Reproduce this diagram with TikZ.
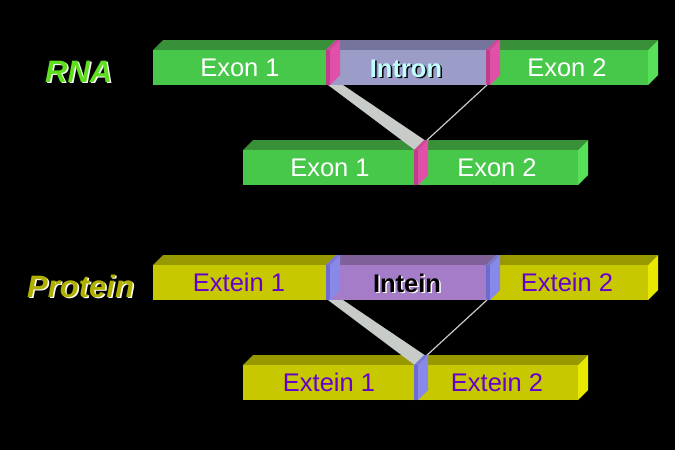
\documentclass[tikz,border=0pt]{standalone}
\usepackage{fontspec}
\setmainfont{Liberation Sans}
\definecolor{gfront}{HTML}{48C84A}
\definecolor{gtop}{HTML}{389038}
\definecolor{gside}{HTML}{58E058}
\definecolor{ifront}{HTML}{9C9CC8}
\definecolor{itop}{HTML}{74749C}
\definecolor{pfront}{HTML}{C03C8C}
\definecolor{ptop}{HTML}{D04898}
\definecolor{pside}{HTML}{E050A8}
\definecolor{yfront}{HTML}{C8C800}
\definecolor{ytop}{HTML}{989800}
\definecolor{yside}{HTML}{E8E800}
\definecolor{nfront}{HTML}{A47CC8}
\definecolor{ntop}{HTML}{806098}
\definecolor{bfront}{HTML}{6C6CD0}
\definecolor{btop}{HTML}{7878D8}
\definecolor{bside}{HTML}{8888E8}
\definecolor{band}{HTML}{C8CCC8}
\definecolor{exttext}{HTML}{6600CC}
\definecolor{intrtext}{HTML}{C0FFFF}
\definecolor{rnagreen}{HTML}{5EE01E}
\definecolor{protolive}{HTML}{B0B000}
\newcommand{\drawbar}[6]{%
  \fill[#5] (#1,#3) -- (#1+10,#3-10) -- (#2+10,#3-10) -- (#2,#3) -- cycle;
  \fill[#4] (#1,#3) rectangle (#2,#3+35);
  \fill[#6] (#2,#3) -- (#2+10,#3-10) -- (#2+10,#3+25) -- (#2,#3+35) -- cycle;
}
\tikzset{
  lbl/.style={inner sep=0pt, anchor=base, font=\fontsize{25.5}{28}\selectfont},
  boldlbl/.style={inner sep=0pt, anchor=base, font=\fontsize{25.5}{28}\selectfont\bfseries},
  biglbl/.style={inner sep=0pt, anchor=base west, font=\fontsize{31}{34}\selectfont\bfseries\itshape},
}
\begin{document}
\begin{tikzpicture}[x=1pt,y=-1pt]
\fill[black] (0,0) rectangle (675,450);
\useasboundingbox (0,0) rectangle (675,450);
% ---------------- RNA ----------------
\drawbar{153}{326}{50}{gfront}{gtop}{gside}
\drawbar{326}{486}{50}{ifront}{itop}{ifront}
\drawbar{486}{648}{50}{gfront}{gtop}{gside}
\drawbar{326}{330}{50}{pfront}{ptop}{pside}
\drawbar{486}{490}{50}{pfront}{ptop}{pside}
\drawbar{243}{414}{150}{gfront}{gtop}{gside}
\drawbar{414}{578}{150}{gfront}{gtop}{gside}
% splicing band and line
\fill[band] (328,85) -- (343,85) -- (426,141) -- (416,151) -- cycle;
\draw[band, line width=1.2pt] (487,85) -- (425,142);
\drawbar{414}{418}{150}{pfront}{ptop}{pside}
% texts
\node[biglbl, white] (rnas) at (46.5,83.5) {RNA};
\node[biglbl, rnagreen] (rna) at (45,82) {RNA};
\node[lbl, white] (ex1) at (240,76) {Exon 1};
\node[boldlbl, black] (intrs) at (407.5,78.5) {Intron};
\node[boldlbl, intrtext] (intr) at (406,77) {Intron};
\node[lbl, white] (ex2) at (567,76) {Exon 2};
\node[lbl, white] (ex1b) at (330,176) {Exon 1};
\node[lbl, white] (ex2b) at (497,176) {Exon 2};
% ---------------- Protein ----------------
\drawbar{153}{326}{265}{yfront}{ytop}{yside}
\drawbar{326}{486}{265}{nfront}{ntop}{nfront}
\drawbar{486}{648}{265}{yfront}{ytop}{yside}
\drawbar{326}{330}{265}{bfront}{btop}{bside}
\drawbar{486}{490}{265}{bfront}{btop}{bside}
\drawbar{243}{414}{365}{yfront}{ytop}{yside}
\drawbar{414}{578}{365}{yfront}{ytop}{yside}
\fill[band] (328,300) -- (343,300) -- (426,356) -- (416,366) -- cycle;
\draw[band, line width=1.2pt] (487,300) -- (425,357);
\drawbar{414}{418}{365}{bfront}{btop}{bside}
\node[biglbl, white] (prots) at (28.5,298.5) {Protein};
\node[biglbl, protolive] (prot) at (27,297) {Protein};
\node[lbl, exttext] (ext1) at (239,291) {Extein 1};
\node[boldlbl, white] (ints) at (408.5,293.5) {Intein};
\node[boldlbl, black] (int) at (407,292) {Intein};
\node[lbl, exttext] (ext2) at (567,291) {Extein 2};
\node[lbl, exttext] (ext1b) at (329,391) {Extein 1};
\node[lbl, exttext] (ext2b) at (497,391) {Extein 2};
\end{tikzpicture}
\end{document}
